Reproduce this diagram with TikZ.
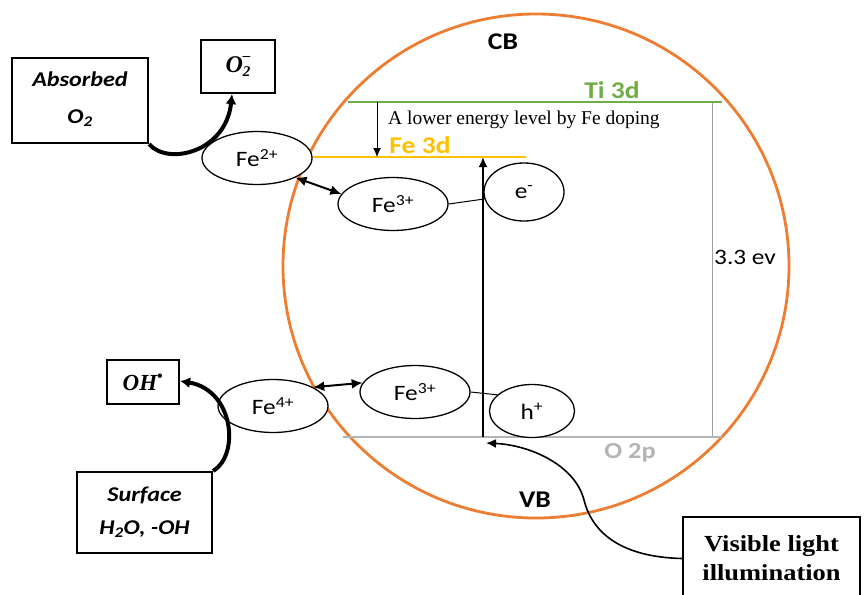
\documentclass[tikz,border=0pt]{standalone}
\usepackage{fontspec}
\setmainfont{Carlito}[FakeStretch=1.15]
\newfontfamily\tnr{Liberation Serif}
\newfontfamily\tnrw{Liberation Serif}[FakeStretch=1.15]
\usetikzlibrary{shapes.geometric,arrows.meta}
\definecolor{orng}{HTML}{ED7D31}
\definecolor{grn}{HTML}{70AD47}
\definecolor{gold}{HTML}{FFC000}
\definecolor{lgray}{HTML}{B4B4B4}
\definecolor{mgray}{HTML}{A0A0A0}
\begin{document}
\begin{tikzpicture}[x=1pt,y=-1pt,
  ion/.style={draw,ellipse,fill=white,line width=1.3pt,minimum width=110pt,minimum height=53pt,inner sep=0pt,font=\fontsize{22}{24}\selectfont},
  carrier/.style={ion,minimum width=80pt,minimum height=58pt},
  boxnode/.style={draw,line width=2.2pt,inner sep=0pt,align=center},
  lbl/.style={font=\fontsize{24}{26}\selectfont\bfseries,inner sep=0pt},
  fatarrow/.style={line width=4pt,-{Latex[length=10pt,width=11pt]}},
  dblarrow/.style={line width=2pt,{Latex[length=11pt,width=10pt]}-{Latex[length=11pt,width=10pt]}},
  thinlink/.style={line width=1pt}]
\useasboundingbox (0,0) rectangle (864,594);
% band circle
\draw[orng,line width=2.8pt] (536,266) ellipse [x radius=253pt, y radius=252pt];
% levels
\coordinate (ti-a) at (348,102); \coordinate (ti-b) at (722,102);
\coordinate (fe-a) at (313,157); \coordinate (fe-b) at (526,157);
\coordinate (op-a) at (343,437); \coordinate (op-b) at (722,437);
\coordinate (gap-t) at (712,102); \coordinate (gap-b) at (712,437);
\coordinate (dn-s) at (377,102); \coordinate (dn-e) at (377,157);
\coordinate (up-s) at (483,437); \coordinate (up-e) at (483,157);
\draw[mgray,line width=0.8pt] (gap-t) -- (gap-b);
\draw[grn,line width=2pt] (ti-a) -- (ti-b);
\draw[gold,line width=2pt] (fe-a) -- (fe-b);
\draw[lgray,line width=2.2pt] (op-a) -- (op-b);
\draw[line width=1pt,-{Latex[length=9pt,width=8pt]}] (dn-s) -- (dn-e);
\draw[line width=1.8pt,-{Latex[length=10pt,width=9pt]}] (up-s) -- (up-e);
% labels
\node[lbl] (cb) at (503,42) {CB};
\node[lbl] (vb) at (535,500) {VB};
\node[lbl,text=grn] (til) at (612,90) {Ti 3d};
\node[lbl,text=gold] (fel) at (420,145) {Fe 3d};
\node[lbl,text=lgray,font=\fontsize{23}{24}\selectfont\bfseries] (opl) at (630,453) {O 2p};
\node[inner sep=0pt,font=\fontsize{22}{24}\selectfont] (gapl) at (745,257) {3.3 ev};
\node[inner sep=0pt,anchor=west,font=\tnr\fontsize{19.5}{22}\selectfont] (note) at (388,120) {A lower energy level by Fe doping};
% ions
\node[ion] (fe2) at (257,158) {Fe\textsuperscript{2+}};
\node[ion] (fe3u) at (393,204) {Fe\textsuperscript{3+}};
\node[carrier] (el) at (524,192) {e\textsuperscript{-}};
\node[ion] (fe4) at (273,406) {Fe\textsuperscript{4+}};
\node[ion] (fe3l) at (415,392) {Fe\textsuperscript{3+}};
\node[carrier,minimum width=85pt,minimum height=53pt] (ho) at (532,411) {h\textsuperscript{+}};
\draw[thinlink] (fe3u.east) -- (el.190);
\draw[thinlink] (fe3l.east) -- (ho.155);
\draw[dblarrow] (fe2.-27) -- (fe3u.169);
\draw[dblarrow] (fe4.25) -- (fe3l.170);
% boxes
\node[boxnode,minimum width=136pt,minimum height=85pt,text depth=6pt,font=\fontsize{21}{37}\selectfont\bfseries\itshape] (abs) at (80,100.5) {Absorbed\\O\textsubscript{2}};
\node[boxnode,minimum width=74pt,minimum height=53pt,font=\tnr\fontsize{24}{26}\selectfont\bfseries\itshape] (o2) at (238,66.5) {O\raisebox{-0.35ex}{\fontsize{15}{15}\selectfont 2}\llap{\raisebox{1.1ex}{\fontsize{15}{15}\selectfont –}}};
\node[boxnode,minimum width=72pt,minimum height=44pt,font=\tnr\fontsize{23}{26}\selectfont\bfseries\itshape] (oh) at (143,382) {OH\textsuperscript{\upshape•}};
\node[boxnode,minimum width=135pt,minimum height=81pt,font=\fontsize{21}{33}\selectfont\bfseries\itshape] (surf) at (144.5,512.5) {Surface\\H\textsubscript{2}O, -OH};
\node[boxnode,minimum width=177pt,minimum height=83pt,font=\tnrw\fontsize{23}{29}\selectfont\bfseries] (vis) at (771.5,558.5) {Visible light\\illumination};
% reaction arrows
\draw[fatarrow] (abs.south east) .. controls (168,166) and (226,152) .. ([xshift=-6pt]o2.south);
\draw[fatarrow] (surf.north east) .. controls (240,455) and (234,390) .. ([yshift=1pt]oh.east);
\draw[line width=1.6pt,-{Latex[length=10pt,width=9pt]}] (vis.west) .. controls (620,557) and (592,532) .. (584,500) .. controls (575,465) and (530,445) .. (486,443);
\end{tikzpicture}
\end{document}
